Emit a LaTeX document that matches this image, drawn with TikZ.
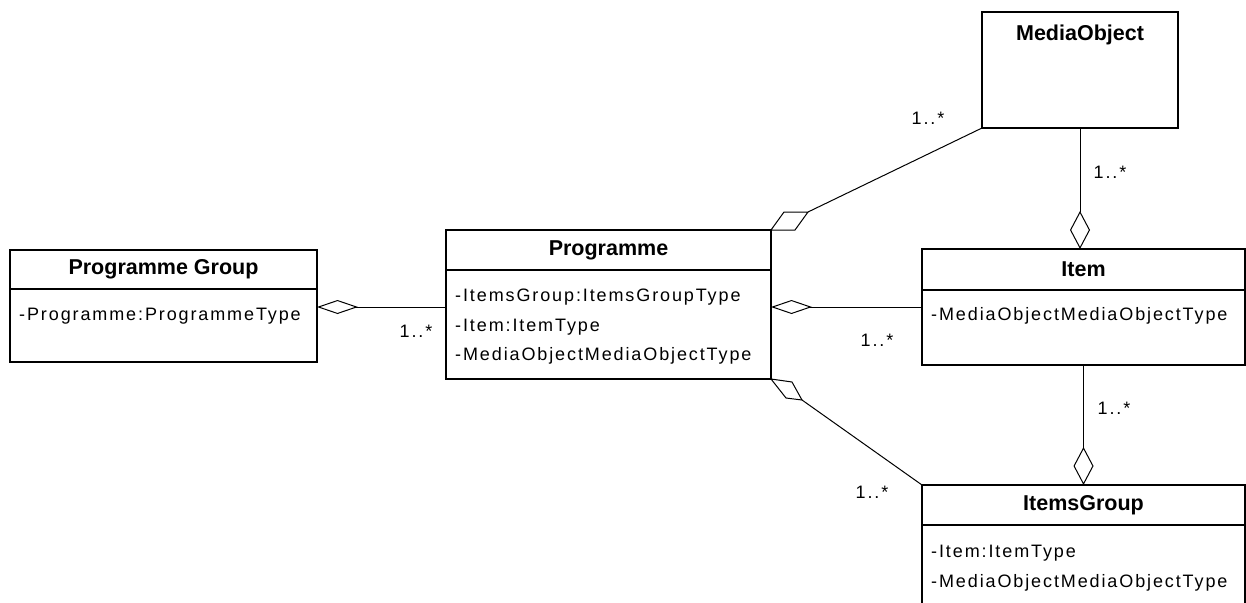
\documentclass[tikz,border=0pt]{standalone}
\usepackage{fontspec}
\setmainfont{Liberation Sans}
\newfontfamily\attrfamily{Liberation Sans}[LetterSpace=10.5]
\usetikzlibrary{positioning,arrows.meta}

\newcommand{\attrfont}{\attrfamily\fontsize{18}{29.5}\selectfont}
\newcommand{\headfont}{\bfseries\fontsize{21.5}{24}\selectfont}

\begin{document}
\begin{tikzpicture}[x=1pt,y=-1pt,
    head/.style={draw,line width=1.2pt,font=\headfont,inner sep=0pt,outer sep=0pt,anchor=north west},
    body/.style={draw,line width=1.2pt,inner sep=0pt,outer sep=0pt},
    attrs/.style={anchor=north west,align=left,font=\attrfont,inner xsep=9pt,inner ysep=19pt},
    mult/.style={font=\attrfont,inner sep=0pt},
    link/.style={line width=1pt},
    aggh/.style={link,{Diamond[open,length=41pt,width=14pt]}-},
    aggv/.style={link,-{Diamond[open,length=38pt,width=20pt]}}
  ]
  \fill[white] (0,0) rectangle (1246,602);
  \useasboundingbox (0,0) rectangle (1246,602);

  % classes
  \node[head,minimum width=307pt,minimum height=39pt] (pgh) at (10,250) {Programme Group};
  \node[body,minimum width=307pt,minimum height=73pt,below=0pt of pgh,
        label={[attrs]north west:-Programme:ProgrammeType}] (pgb) {};

  \node[head,minimum width=325pt,minimum height=40pt] (prgh) at (446,230) {Programme};
  \node[body,minimum width=325pt,minimum height=109pt,below=0pt of prgh,
        label={[attrs]north west:-ItemsGroup:ItemsGroupType\\-Item:ItemType\\-MediaObjectMediaObjectType}] (prgb) {};

  \node[body,anchor=north west,minimum width=196pt,minimum height=116pt,
        label={[anchor=north,font=\headfont,inner ysep=13pt]north:MediaObject}] (media) at (982,12) {};

  \node[head,minimum width=323pt,minimum height=41pt] (itemh) at (922,249) {Item};
  \node[body,minimum width=323pt,minimum height=75pt,below=0pt of itemh,
        label={[attrs,inner ysep=17pt]north west:-MediaObjectMediaObjectType}] (itemb) {};

  \node[head,minimum width=323pt,minimum height=40pt] (igh) at (922,485) {ItemsGroup};
  \node[body,minimum width=323pt,minimum height=100pt,below=0pt of igh,
        label={[attrs,inner ysep=20pt]north west:-Item:ItemType\\-MediaObjectMediaObjectType}] (igb) {};

  % aggregations
  \coordinate (c1) at ([yshift=-18pt]pgb.north east);
  \draw[aggh] (c1) -- (c1 -| prgb.west);
  \coordinate (c2) at ([yshift=-37pt]prgb.north east);
  \draw[aggh] (c2) -- (c2 -| itemb.west);
  \draw[aggv] (media.south) -- (media.south |- itemh.north);
  \draw[aggv] (itemb.south) -- (igh.north);

  \draw[link] (prgh.north east) -- ++(13,-18) -- ++(24,0) coordinate (c3) -- ++(-13,18) -- cycle;
  \draw[link] (c3) -- (media.south west);
  \draw[link] (prgb.south east) -- ++(21,3) -- ++(10,18) coordinate (c4) -- ++(-16,-2) -- cycle;
  \draw[link] (c4) -- (igh.north west);

  % multiplicities
  \node[mult] (m1) at (416,331) {1..*};
  \node[mult] (m2) at (928,118) {1..*};
  \node[mult] (m3) at (1110,172) {1..*};
  \node[mult] (m4) at (877,340) {1..*};
  \node[mult] (m5) at (1114,408) {1..*};
  \node[mult] (m6) at (872,492) {1..*};
\end{tikzpicture}
\end{document}
